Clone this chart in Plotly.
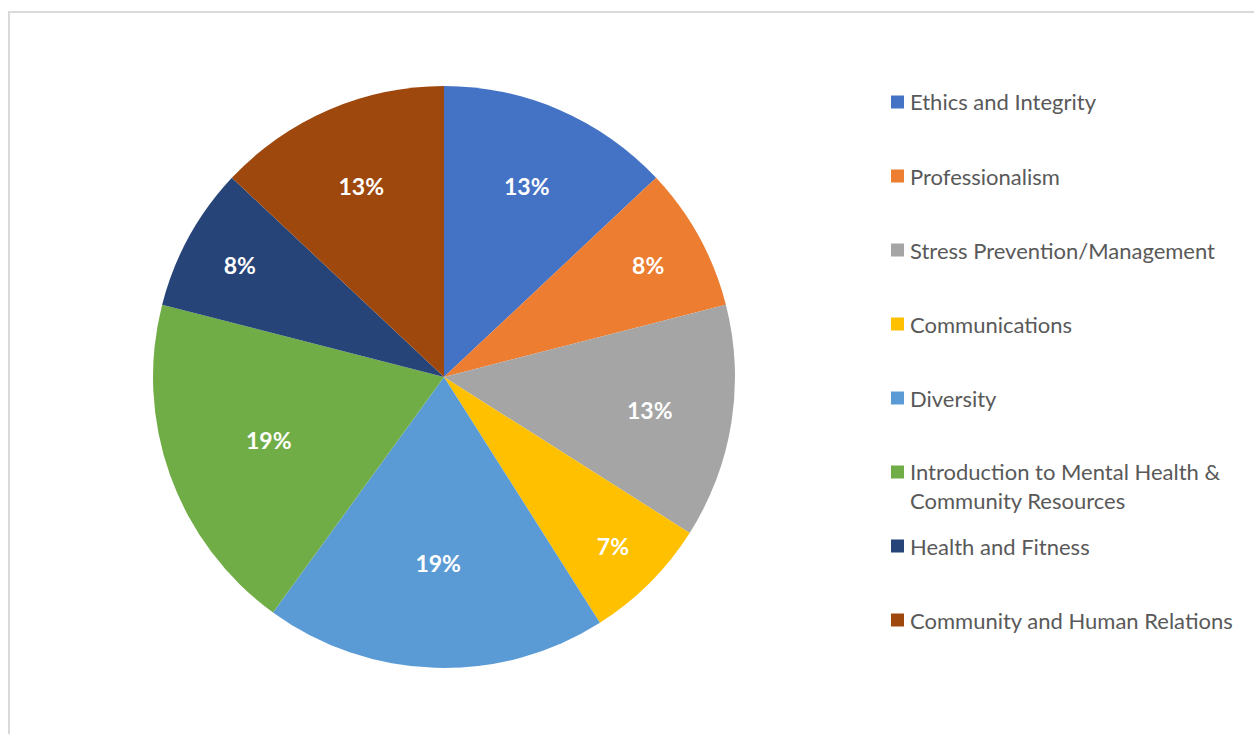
import plotly.graph_objects as go

# Share of training hours by topic (percent)
topics = [
    "Ethics and Integrity",
    "Professionalism",
    "Stress Prevention/Management",
    "Communications",
    "Diversity",
    "Introduction to Mental Health &<br>Community Resources",
    "Health and Fitness",
    "Community and Human Relations",
]
shares = [13, 8, 13, 7, 19, 19, 8, 13]
colors = ["#4472C4", "#ED7D31", "#A5A5A5", "#FFC000",
          "#5B9BD5", "#70AD47", "#264478", "#9E480E"]

W, H = 1254, 734
FONT = "Lato, Calibri, Carlito, sans-serif"

fig = go.Figure(
    go.Pie(
        labels=[t.replace("<br>", " ") for t in topics],
        values=shares,
        sort=False,
        direction="clockwise",
        rotation=0,
        marker=dict(colors=colors, line=dict(width=0)),
        texttemplate="%{percent:.0%}",
        textposition="inside",
        insidetextorientation="horizontal",
        textfont=dict(family=FONT, size=23, color="white", weight="bold"),
        hoverinfo="label+percent",
        showlegend=False,
        domain=dict(x=[153 / W, 735 / W], y=[1 - 668 / H, 1 - 86 / H]),
    )
)

# Legend drawn as a column of colour swatches with labels
shapes = []
annotations = []
first_row, row_step, line_gap = 102, 74, 28
for i, (name, col) in enumerate(zip(topics, colors)):
    yc = first_row + i * row_step
    n_lines = name.count("<br>") + 1
    shapes.append(dict(
        type="rect", xref="paper", yref="paper",
        x0=891 / W, x1=904 / W,
        y0=1 - (yc + 6.5) / H, y1=1 - (yc - 6.5) / H,
        fillcolor=col, line=dict(width=0),
    ))
    annotations.append(dict(
        xref="paper", yref="paper",
        x=908 / W, y=1 - (yc + (n_lines - 1) * line_gap / 2) / H,
        xanchor="left", yanchor="middle", align="left",
        text=name, showarrow=False,
        font=dict(family=FONT, size=22, color="#595959"),
    ))

# Chart-area frame
shapes.append(dict(
    type="rect", xref="paper", yref="paper",
    x0=9 / W, x1=1.01, y0=-0.01, y1=1 - 12 / H,
    line=dict(color="#D9D9D9", width=2), fillcolor="rgba(0,0,0,0)",
    layer="below",
))

fig.update_layout(
    width=W, height=H,
    margin=dict(l=0, r=0, t=0, b=0),
    paper_bgcolor="white",
    plot_bgcolor="white",
    shapes=shapes,
    annotations=annotations,
)

fig.write_html("out.html")
